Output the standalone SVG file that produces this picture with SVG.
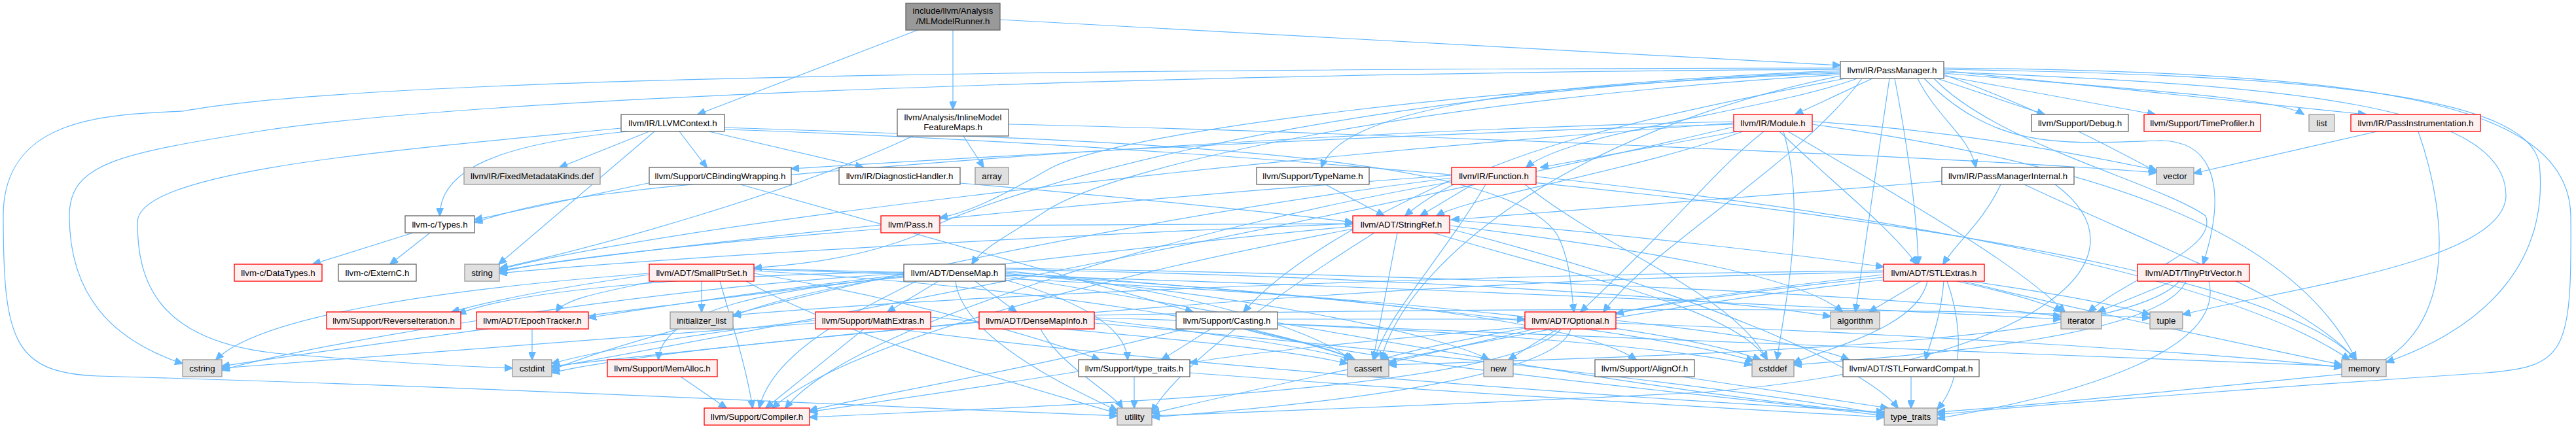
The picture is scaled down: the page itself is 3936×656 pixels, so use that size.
<svg xmlns="http://www.w3.org/2000/svg" width="3936" height="656" viewBox="0 0 3936 656">
<style>
rect{stroke-width:1.3}
.w rect{fill:#ffffff;stroke:#666666}
.g rect{fill:#e0e0e0;stroke:#999999}
.r rect{fill:#fff0f0;stroke:#ff0000}
.root rect{fill:#999999;stroke:#666666}
text{font-family:"Liberation Sans",Arial,Helvetica,sans-serif;font-size:13.33px;fill:#000000;text-anchor:middle}
#edges path{fill:none;stroke:#63b8ff;stroke-width:1.2;marker-end:url(#ah)}
</style>
<defs>
<marker id="ah" markerUnits="userSpaceOnUse" markerWidth="13" markerHeight="11" refX="12" refY="5.5" orient="auto"><path d="M0,0 L13,5.5 L0,11 z" fill="#63b8ff" stroke="#63b8ff"/></marker>
</defs>
<rect width="3936" height="656" fill="#ffffff"/>
<g id="edges">
<path d="M1402,46 L1066,175"/>
<path d="M1456,46 L1456,167"/>
<path d="M1528,30 L2812,100"/>
<path d="M1472,208 L1503,256"/>
<path d="M1395,208 C1200,300 900,380 764,410"/>
<path d="M1541,190 C2000,200 3000,240 3295,264"/>
<path d="M992,201 L855,256"/>
<path d="M960,201 C760,220 672,260 672,330"/>
<path d="M949,196 C600,230 210,260 210,340 C210,430 240,520 420,540 C600,555 700,560 783,563"/>
<path d="M1000,201 L762,404"/>
<path d="M1038,201 L1080,256"/>
<path d="M1083,201 L1319,256"/>
<path d="M1107,195 C1700,215 2300,230 2380,360 C2400,400 2400,440 2405,477"/>
<path d="M1107,198 C1800,220 3400,330 3600,550"/>
<path d="M2812,108 C2300,130 2050,170 2019,256"/>
<path d="M2838,120 C2700,170 2400,200 2332,256"/>
<path d="M2861,120 L2743,175"/>
<path d="M2820,120 C2500,180 2250,240 2147,330"/>
<path d="M2812,112 C2300,130 1700,200 1600,260 C1530,300 1480,325 1436,333"/>
<path d="M2812,110 C2000,140 1500,300 1400,360 C1300,400 1200,405 1152,410"/>
<path d="M2812,114 C2200,150 1700,250 1593,326 C1540,360 1500,380 1485,404"/>
<path d="M2812,106 C2000,110 800,140 400,200 C180,235 106,250 106,330 C106,450 170,520 279,556"/>
<path d="M2812,104 C2000,105 600,110 280,170 C160,175 5,180 5,330 C5,520 20,570 150,575 C700,590 1300,620 1707,636"/>
<path d="M2845,120 C2750,250 2520,380 2450,477"/>
<path d="M2895,120 C2920,250 2930,350 2931,404"/>
<path d="M2940,120 C3050,230 3150,220 3300,215 C3390,215 3400,300 3366,404"/>
<path d="M2970,108 L3615,175"/>
<path d="M2930,120 C2960,180 3010,210 3019,256"/>
<path d="M2960,120 L3124,175"/>
<path d="M2970,116 L3293,175"/>
<path d="M2970,112 C3300,140 3480,150 3520,175"/>
<path d="M2887,120 L2835,477"/>
<path d="M2812,116 C2400,200 2150,400 2110,550"/>
<path d="M2955,120 C3050,220 3300,280 3370,330 C3390,380 3260,420 3191,477"/>
<path d="M2970,106 C3500,115 3860,140 3880,250 C3895,400 3800,500 3646,554"/>
<path d="M2970,110 C3500,130 3830,160 3829,300 C3825,400 3500,440 3335,481"/>
<path d="M2970,104 C3600,110 3925,150 3928,330 C3930,540 3920,560 3800,570 C3500,590 3100,620 2960,634"/>
<path d="M2970,114 C3150,180 3250,240 3295,262"/>
<path d="M2649,186 C2000,200 1200,260 900,300 C800,315 760,330 725,340"/>
<path d="M2695,201 C2620,260 2570,330 2415,477"/>
<path d="M2719,201 C2800,280 2880,340 2929,404"/>
<path d="M2663,201 C2500,260 2250,300 2195,330"/>
<path d="M2655,201 L2354,256"/>
<path d="M2649,190 C2000,210 1500,240 1209,258"/>
<path d="M2725,201 C2760,320 2730,450 2715,550"/>
<path d="M2649,194 C2200,300 1300,480 843,562"/>
<path d="M2732,201 C2900,300 3080,400 3155,477"/>
<path d="M2769,190 C3200,250 3500,350 3600,550"/>
<path d="M2649,188 C1800,250 1000,350 763,412"/>
<path d="M2769,186 C3000,200 3200,240 3295,260"/>
<path d="M2250,282 L2170,330"/>
<path d="M2218,275 C2050,350 1950,420 1900,477"/>
<path d="M2218,278 C1800,350 1300,500 1200,624"/>
<path d="M2270,282 C2200,400 2120,480 2100,550"/>
<path d="M2330,282 C2450,380 2650,450 2700,550"/>
<path d="M2218,272 C1600,350 1000,500 843,566"/>
<path d="M2347,270 C2900,330 3400,420 3590,550"/>
<path d="M2218,268 C1500,320 900,390 763,414"/>
<path d="M1346,350 C1100,370 850,395 763,416"/>
<path d="M1436,345 C1700,345 1900,342 2067,342"/>
<path d="M2215,336 C2500,360 2750,390 2878,408"/>
<path d="M2067,350 C1700,420 1300,520 1180,624"/>
<path d="M2215,345 C2500,380 2750,420 2815,477"/>
<path d="M2135,356 L2098,550"/>
<path d="M2190,356 C2400,420 2650,470 2700,550"/>
<path d="M2067,346 C1500,400 600,520 339,560"/>
<path d="M2067,342 C1600,360 1000,395 763,418"/>
<path d="M2215,350 C2600,450 2850,560 2900,624"/>
<path d="M2100,356 C1950,450 1800,560 1760,630"/>
<path d="M1000,430 C900,450 860,460 850,477"/>
<path d="M1100,430 C1120,500 1140,560 1150,624"/>
<path d="M992,420 C850,440 750,460 690,477"/>
<path d="M1152,418 C1400,460 1600,520 1680,550"/>
<path d="M1152,414 C1600,440 1950,500 2070,550"/>
<path d="M1152,412 C1800,430 2500,480 2690,550"/>
<path d="M992,418 C700,440 400,480 330,550"/>
<path d="M1072,430 L1072,477"/>
<path d="M1152,411 C2000,430 2800,470 3149,488"/>
<path d="M1140,430 C1300,520 1600,600 1707,632"/>
<path d="M1490,430 L1553,477"/>
<path d="M1381,420 C1200,440 1000,470 899,486"/>
<path d="M1536,420 C1900,440 2400,480 2500,550"/>
<path d="M1400,430 C1300,480 1180,540 1160,624"/>
<path d="M1434,430 L1356,477"/>
<path d="M1381,424 C1200,440 1010,470 1006,550"/>
<path d="M1381,416 C1100,420 800,440 700,480"/>
<path d="M1536,428 C1650,460 1720,500 1723,550"/>
<path d="M1536,412 C2000,420 2600,450 2797,484"/>
<path d="M1536,414 C1800,440 2000,500 2065,550"/>
<path d="M1536,416 C2000,450 2500,500 2680,552"/>
<path d="M1381,418 C1000,440 500,520 339,566"/>
<path d="M1381,422 C1250,440 1150,470 1120,484"/>
<path d="M1536,410 C2200,420 2900,450 3149,484"/>
<path d="M1536,418 C1900,450 2200,510 2275,550"/>
<path d="M1536,422 C1900,480 2500,600 2879,632"/>
<path d="M1460,430 C1470,520 1650,600 1707,628"/>
<path d="M2878,420 C2700,440 2550,460 2469,480"/>
<path d="M2970,430 C2965,490 2950,520 2942,550"/>
<path d="M2935,430 L2856,477"/>
<path d="M2878,424 C2600,450 2200,520 2110,550"/>
<path d="M2945,430 C2930,500 2800,530 2740,555"/>
<path d="M2878,416 C2000,430 1200,520 843,560"/>
<path d="M2878,414 C2200,420 1500,450 1120,482"/>
<path d="M2990,430 C3080,450 3130,465 3150,477"/>
<path d="M3000,430 C3200,480 3450,530 3578,558"/>
<path d="M3010,430 C3150,450 3230,465 3285,481"/>
<path d="M2975,430 C3000,500 3000,580 2960,626"/>
<path d="M2878,428 C2400,480 1900,600 1760,632"/>
<path d="M3320,430 L3205,477"/>
<path d="M3330,430 C3250,520 2700,540 2122,558"/>
<path d="M3340,430 C3300,520 2900,545 2741,558"/>
<path d="M3375,430 C3400,530 3200,600 2960,640"/>
<path d="M2469,490 C2650,510 2780,530 2825,550"/>
<path d="M2385,503 C2300,600 1600,620 1237,638"/>
<path d="M2330,500 C2100,520 1900,540 1818,555"/>
<path d="M2345,503 L2122,555"/>
<path d="M2469,494 C2900,510 3400,540 3578,562"/>
<path d="M2380,503 L2305,550"/>
<path d="M2400,503 C2380,580 2000,620 1760,638"/>
<path d="M1952,488 C2100,488 2250,488 2330,488"/>
<path d="M1810,503 C1600,560 1300,610 1237,628"/>
<path d="M1850,503 L1775,550"/>
<path d="M1910,503 C1980,520 2040,535 2070,550"/>
<path d="M1952,495 C2500,520 3200,540 3578,560"/>
<path d="M1900,503 C2100,560 2600,600 2879,636"/>
<path d="M1320,503 L1170,624"/>
<path d="M1422,485 C1700,510 1950,530 2059,556"/>
<path d="M1246,490 C1050,510 900,540 843,556"/>
<path d="M1246,494 C900,520 500,550 339,563"/>
<path d="M1370,503 C1800,560 2500,610 2879,630"/>
<path d="M1672,488 C1850,510 2000,530 2065,550"/>
<path d="M1672,486 C2200,500 2550,530 2677,558"/>
<path d="M1496,492 C1200,520 950,545 843,570"/>
<path d="M1672,482 C2300,470 3000,470 3285,486"/>
<path d="M1672,494 C2200,540 2700,600 2879,634"/>
<path d="M1590,503 C1620,560 1700,600 1715,624"/>
<path d="M1648,568 C1450,600 1300,620 1237,630"/>
<path d="M1818,570 C2200,600 2650,625 2879,638"/>
<path d="M1733,576 L1733,624"/>
<path d="M1040,576 L1110,624"/>
<path d="M813,503 L813,550"/>
<path d="M2570,576 L2885,624"/>
<path d="M2920,576 L2920,624"/>
<path d="M2025,282 L2115,330"/>
<path d="M3057,282 C3030,340 2990,370 2969,404"/>
<path d="M2967,277 C2700,300 2400,320 2218,336"/>
<path d="M3093,282 C3300,380 3520,460 3600,550"/>
<path d="M3140,282 C3300,400 3100,560 2600,600 C2200,620 1900,630 1760,636"/>
<path d="M3632,201 L3352,265"/>
<path d="M3695,201 C3740,330 3760,520 3600,570 C3300,600 3050,625 2960,630"/>
<path d="M631,356 L478,404"/>
<path d="M657,356 L596,404"/>
<path d="M1000,278 L725,336"/>
<path d="M1131,282 L1823,477"/>
<path d="M1467,280 C1700,300 1950,325 2067,340"/>
</g>
<g id="n_mlmodelrunner" class="root"><rect x="1384" y="5" width="144" height="41"/><text x="1456" y="21">include/llvm/Analysis</text><text x="1456" y="37">/MLModelRunner.h</text></g>
<g id="n_passmanager" class="w"><rect x="2812" y="94" width="158" height="26"/><text x="2891" y="111.5">llvm/IR/PassManager.h</text></g>
<g id="n_llvmcontext" class="w"><rect x="949" y="175" width="158" height="26"/><text x="1028" y="192.5">llvm/IR/LLVMContext.h</text></g>
<g id="n_inlinemodel" class="w"><rect x="1371" y="167" width="170" height="41"/><text x="1456" y="184">llvm/Analysis/InlineModel</text><text x="1456" y="199">FeatureMaps.h</text></g>
<g id="n_module" class="r"><rect x="2649" y="175" width="120" height="26"/><text x="2709" y="192.5">llvm/IR/Module.h</text></g>
<g id="n_debug" class="w"><rect x="3104" y="175" width="148" height="26"/><text x="3178" y="192.5">llvm/Support/Debug.h</text></g>
<g id="n_timeprofiler" class="r"><rect x="3276" y="175" width="178" height="26"/><text x="3365" y="192.5">llvm/Support/TimeProfiler.h</text></g>
<g id="n_list" class="g"><rect x="3528" y="175" width="39" height="26"/><text x="3547.5" y="192.5">list</text></g>
<g id="n_passinstr" class="r"><rect x="3592" y="175" width="198" height="26"/><text x="3691" y="192.5">llvm/IR/PassInstrumentation.h</text></g>
<g id="n_fixedmd" class="g"><rect x="709" y="256" width="208" height="26"/><text x="813" y="273.5">llvm/IR/FixedMetadataKinds.def</text></g>
<g id="n_cbinding" class="w"><rect x="992" y="256" width="217" height="26"/><text x="1100.5" y="273.5">llvm/Support/CBindingWrapping.h</text></g>
<g id="n_diaghandler" class="w"><rect x="1282" y="256" width="185" height="26"/><text x="1374.5" y="273.5">llvm/IR/DiagnosticHandler.h</text></g>
<g id="n_array" class="g"><rect x="1490" y="256" width="51" height="26"/><text x="1515.5" y="273.5">array</text></g>
<g id="n_typename" class="w"><rect x="1920" y="256" width="172" height="26"/><text x="2006" y="273.5">llvm/Support/TypeName.h</text></g>
<g id="n_function" class="r"><rect x="2218" y="256" width="129" height="26"/><text x="2282.5" y="273.5">llvm/IR/Function.h</text></g>
<g id="n_pminternal" class="w"><rect x="2967" y="256" width="202" height="26"/><text x="3068" y="273.5">llvm/IR/PassManagerInternal.h</text></g>
<g id="n_vector" class="g"><rect x="3295" y="256" width="57" height="26"/><text x="3323.5" y="273.5">vector</text></g>
<g id="n_ctypes" class="w"><rect x="619" y="330" width="106" height="26"/><text x="672" y="347.5">llvm-c/Types.h</text></g>
<g id="n_pass" class="r"><rect x="1346" y="330" width="90" height="26"/><text x="1391" y="347.5">llvm/Pass.h</text></g>
<g id="n_stringref" class="r"><rect x="2067" y="330" width="148" height="26"/><text x="2141" y="347.5">llvm/ADT/StringRef.h</text></g>
<g id="n_datatypes" class="r"><rect x="358" y="404" width="134" height="26"/><text x="425" y="421.5">llvm-c/DataTypes.h</text></g>
<g id="n_externc" class="w"><rect x="517" y="404" width="119" height="26"/><text x="576.5" y="421.5">llvm-c/ExternC.h</text></g>
<g id="n_string" class="g"><rect x="710" y="404" width="53" height="26"/><text x="736.5" y="421.5">string</text></g>
<g id="n_smallptrset" class="r"><rect x="992" y="404" width="160" height="26"/><text x="1072" y="421.5">llvm/ADT/SmallPtrSet.h</text></g>
<g id="n_densemap" class="w"><rect x="1381" y="404" width="155" height="26"/><text x="1458.5" y="421.5">llvm/ADT/DenseMap.h</text></g>
<g id="n_stlextras" class="r"><rect x="2878" y="404" width="154" height="26"/><text x="2955" y="421.5">llvm/ADT/STLExtras.h</text></g>
<g id="n_tinyptrvector" class="r"><rect x="3266" y="404" width="171" height="26"/><text x="3351.5" y="421.5">llvm/ADT/TinyPtrVector.h</text></g>
<g id="n_reverseiter" class="r"><rect x="499" y="477" width="205" height="26"/><text x="601.5" y="494.5">llvm/Support/ReverseIteration.h</text></g>
<g id="n_epoch" class="r"><rect x="728" y="477" width="171" height="26"/><text x="813.5" y="494.5">llvm/ADT/EpochTracker.h</text></g>
<g id="n_initlist" class="g"><rect x="1024" y="477" width="96" height="26"/><text x="1072" y="494.5">initializer_list</text></g>
<g id="n_mathextras" class="r"><rect x="1246" y="477" width="176" height="26"/><text x="1334" y="494.5">llvm/Support/MathExtras.h</text></g>
<g id="n_densemapinfo" class="r"><rect x="1496" y="477" width="176" height="26"/><text x="1584" y="494.5">llvm/ADT/DenseMapInfo.h</text></g>
<g id="n_casting" class="w"><rect x="1797" y="477" width="155" height="26"/><text x="1874.5" y="494.5">llvm/Support/Casting.h</text></g>
<g id="n_optional" class="r"><rect x="2330" y="477" width="139" height="26"/><text x="2399.5" y="494.5">llvm/ADT/Optional.h</text></g>
<g id="n_algorithm" class="g"><rect x="2797" y="477" width="75" height="26"/><text x="2834.5" y="494.5">algorithm</text></g>
<g id="n_iterator" class="g"><rect x="3149" y="477" width="62" height="26"/><text x="3180" y="494.5">iterator</text></g>
<g id="n_tuple" class="g"><rect x="3285" y="477" width="50" height="26"/><text x="3310" y="494.5">tuple</text></g>
<g id="n_cstring" class="g"><rect x="279" y="550" width="60" height="26"/><text x="309" y="567.5">cstring</text></g>
<g id="n_cstdint" class="g"><rect x="783" y="550" width="60" height="26"/><text x="813" y="567.5">cstdint</text></g>
<g id="n_memalloc" class="r"><rect x="928" y="550" width="168" height="26"/><text x="1012" y="567.5">llvm/Support/MemAlloc.h</text></g>
<g id="n_llvmtypetraits" class="w"><rect x="1648" y="550" width="170" height="26"/><text x="1733" y="567.5">llvm/Support/type_traits.h</text></g>
<g id="n_cassert" class="g"><rect x="2059" y="550" width="63" height="26"/><text x="2090.5" y="567.5">cassert</text></g>
<g id="n_new" class="g"><rect x="2267" y="550" width="45" height="26"/><text x="2289.5" y="567.5">new</text></g>
<g id="n_alignof" class="w"><rect x="2437" y="550" width="152" height="26"/><text x="2513" y="567.5">llvm/Support/AlignOf.h</text></g>
<g id="n_cstddef" class="g"><rect x="2677" y="550" width="64" height="26"/><text x="2709" y="567.5">cstddef</text></g>
<g id="n_stlfwd" class="w"><rect x="2816" y="550" width="208" height="26"/><text x="2920" y="567.5">llvm/ADT/STLForwardCompat.h</text></g>
<g id="n_memory" class="g"><rect x="3578" y="550" width="68" height="26"/><text x="3612" y="567.5">memory</text></g>
<g id="n_compiler" class="r"><rect x="1076" y="624" width="161" height="26"/><text x="1156.5" y="641.5">llvm/Support/Compiler.h</text></g>
<g id="n_utility" class="g"><rect x="1707" y="624" width="53" height="26"/><text x="1733.5" y="641.5">utility</text></g>
<g id="n_typetraits" class="g"><rect x="2879" y="624" width="81" height="26"/><text x="2919.5" y="641.5">type_traits</text></g>
</svg>
